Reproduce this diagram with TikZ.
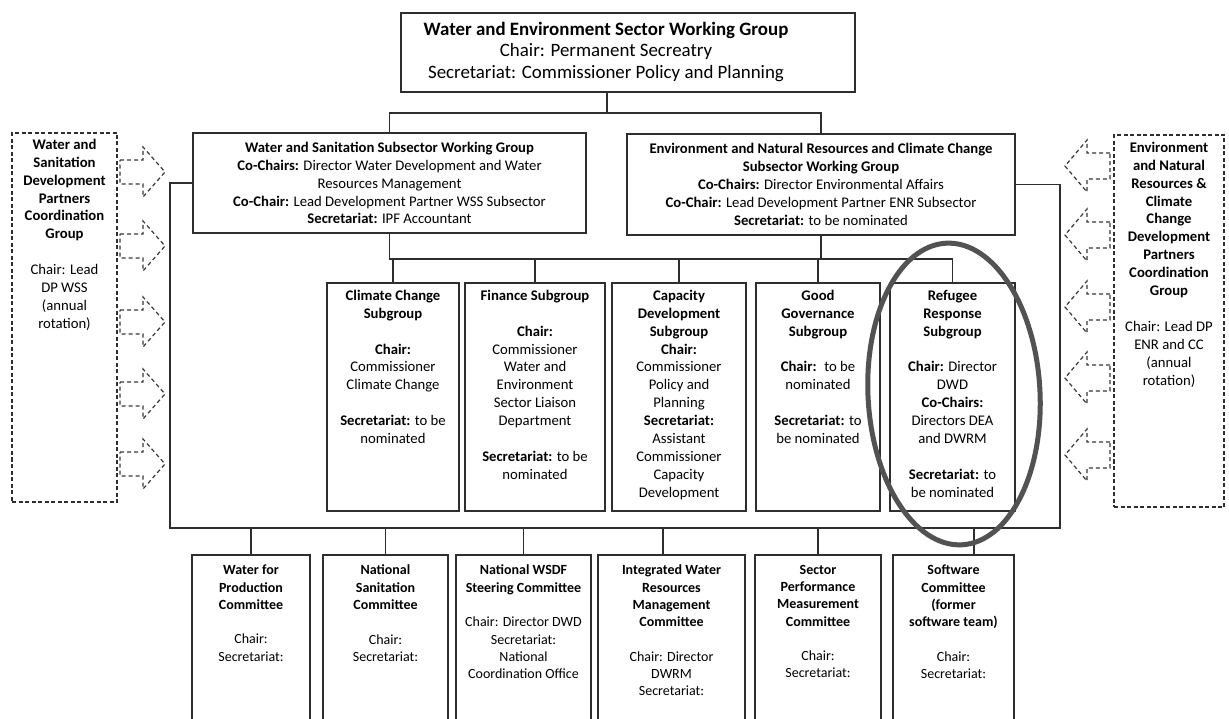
\documentclass[tikz,border=0pt]{standalone}
\usepackage{fontspec}
\setmainfont{Carlito}
% text block of a fixed size, set from its top edge
\newcommand\cellbox[4]{\parbox[c][#2][t]{#1}{\vspace*{#3}\centering #4\par}}
\newcommand\sizeA{\fontsize{18.9}{22.5}\selectfont}
\newcommand\sizeB{\fontsize{14.7}{17.9}\selectfont}
\newcommand\sizeC{\fontsize{14}{17.3}\selectfont}
\begin{document}
\begin{tikzpicture}[x=1pt,y=-1pt,
  line/.style={draw=black!82, line width=1.35pt},
  box/.style={draw=black!82, line width=1.35pt, inner sep=0pt, fill=white},
  dbox/.style={draw=black!82, line width=1.3pt, dash pattern=on 4pt off 2.5pt, inner sep=0pt},
  darrow/.style={draw=black!78, line width=1.2pt, dash pattern=on 4pt off 3pt, line join=miter},
  ring/.style={draw=black!68, line width=5pt}]
\useasboundingbox (0,0) rectangle (1229,719);
\begin{scope}
\clip (0,0) rectangle (1229,719);

% bus lines
\coordinate (busA) at (0,113);
\coordinate (busB) at (0,259);
\coordinate (busC) at (0,528);
\coordinate (lcorner) at (170,528);
\coordinate (rcorner) at (1060,528);

% sector working group
\node[box, minimum width=454, minimum height=79] (top) at (628,52.5)
  {\sizeA\begin{tabular}{@{}c@{}}\textbf{Water and Environment Sector Working Group}\\[-1pt]
   Chair: Permanent Secreatry\\[-1pt]
   Secretariat: Commissioner Policy and Planning\end{tabular}\hspace*{44pt}};

% subsector working groups
\node[box, minimum width=393, minimum height=100, align=center, font=\sizeB] (wss) at (389.5,183)
  {\textbf{Water and Sanitation Subsector Working Group}\\
   \textbf{Co-Chairs:} Director Water Development and Water\\
   Resources Management\\
   \textbf{Co-Chair:} Lead Development Partner WSS Subsector\\
   \textbf{Secretariat:} IPF Accountant};
\node[box, minimum width=388, minimum height=101, align=center, font=\sizeB] (enr) at (821,184.5)
  {\textbf{Environment and Natural Resources and Climate Change}\\
   \textbf{Subsector Working Group}\\
   \textbf{Co-Chairs:} Director Environmental Affairs\\
   \textbf{Co-Chair:} Lead Development Partner ENR Subsector\\
   \textbf{Secretariat:} to be nominated};

% development partner groups
\node[dbox] (wdp) at (64.5,317.5)
  {\cellbox{105pt}{369pt}{6pt}{\sizeB\textbf{Water and\\Sanitation\\Development\\Partners\\Coordination\\Group}\\[17.9pt]
   Chair: Lead\\DP WSS\\(annual\\rotation)}};
\node[dbox] (edp) at (1169,321)
  {\cellbox{110pt}{372pt}{7pt}{\sizeB\textbf{Environment\\and Natural\\Resources \&\\Climate\\Change\\Development\\Partners\\Coordination\\Group}\\[17.9pt]
   Chair: Lead DP\\ENR and CC\\(annual\\rotation)}};

% subgroups
\node[box] (cc) at (393,397)
  {\cellbox{132pt}{228pt}{7pt}{\sizeB\textbf{Climate Change\\Subgroup}\\[17.9pt]
   \textbf{Chair:}\\Commissioner\\Climate Change\\[17.9pt]
   \textbf{Secretariat:} to be\\nominated}};
\node[box] (fin) at (535,397)
  {\cellbox{140pt}{228pt}{7pt}{\sizeB\textbf{Finance Subgroup}\\[17.9pt]
   \textbf{Chair:}\\Commissioner\\Water and\\Environment\\Sector Liaison\\Department\\[17.9pt]
   \textbf{Secretariat:} to be\\nominated}};
\node[box] (cap) at (679,397)
  {\cellbox{134pt}{228pt}{7pt}{\sizeB\textbf{Capacity\\Development\\Subgroup}\\
   \textbf{Chair:}\\Commissioner\\Policy and\\Planning\\
   \textbf{Secretariat:}\\Assistant\\Commissioner\\Capacity\\Development}};
\node[box] (gg) at (818,397)
  {\cellbox{124pt}{228pt}{7pt}{\sizeB\textbf{Good\\Governance\\Subgroup}\\[17.9pt]
   \textbf{Chair:} \ to be\\nominated\\[17.9pt]
   \textbf{Secretariat:} to\\be nominated}};
\node[box] (ref) at (952.5,397)
  {\cellbox{125pt}{228pt}{7pt}{\sizeB\textbf{Refugee\\Response\\Subgroup}\\[17.9pt]
   \textbf{Chair:} Director\\DWD\\\textbf{Co-Chairs:}\\Directors DEA\\and DWRM\\[17.9pt]
   \textbf{Secretariat:} to\\be nominated}};

% committees
\node[box] (wfp) at (251,642.5)
  {\cellbox{118pt}{175pt}{10pt}{\sizeC\textbf{Water for\\Production\\Committee}\\[17.3pt]
   Chair:\\Secretariat:}};
\node[box] (ns) at (385.5,642.5)
  {\cellbox{125pt}{175pt}{10pt}{\sizeC\textbf{National\\Sanitation\\Committee}\\[17.3pt]
   Chair:\\Secretariat:}};
\node[box] (wsdf) at (523.5,642.5)
  {\cellbox{135pt}{175pt}{10pt}{\sizeC\textbf{National WSDF\\Steering Committee}\\[17.3pt]
   Chair: Director DWD\\Secretariat:\\National\\Coordination Office}};
\node[box] (iwrm) at (671.5,642.5)
  {\cellbox{147pt}{175pt}{10pt}{\sizeC\textbf{Integrated Water\\Resources\\Management\\Committee}\\[17.3pt]
   Chair: Director\\DWRM\\Secretariat:}};
\node[box] (spm) at (818,642.5)
  {\cellbox{126pt}{175pt}{10pt}{\sizeC\textbf{Sector\\Performance\\Measurement\\Committee}\\[17.3pt]
   Chair:\\Secretariat:}};
\node[box] (sw) at (953.5,642.5)
  {\cellbox{121pt}{175pt}{10pt}{\sizeC\textbf{Software\\Committee\\(former\\software team)}\\[17.3pt]
   Chair:\\Secretariat:}};

% top level connectors
\draw[line] ([xshift=-21pt]top.south) -- ([xshift=-21pt]top.south |- busA);
\draw[line] (wss.north) -- (wss.north |- busA) -| (enr.north);

% subgroup connectors
\draw[line] (wss.south) -- (wss.south |- busB) -- (ref.north |- busB);
\draw[line] (enr.south) -- (enr.south |- busB);
\foreach \n in {cc,fin,cap,gg,ref}
  \draw[line] (\n.north) -- (\n.north |- busB);

% committee connectors
\draw[line] (wss.west) -| (lcorner) -- (rcorner) |- (enr.east);
\foreach \n in {wfp,ns,wsdf,spm}
  \draw[line] (\n.north) -- (\n.north |- busC);
\draw[line] ([xshift=-8.5pt]iwrm.north) -- ([xshift=-8.5pt]iwrm.north |- busC);
\draw[line] ([xshift=20.5pt]sw.north) -- ([xshift=20.5pt]sw.north |- busC);

% dashed block arrows from the partner groups
\foreach \y in {172,246,322,394,464}
  \draw[darrow] (120,\y-12) -- (143,\y-12) -- (143,\y-25) -- (165,\y)
    -- (143,\y+25) -- (143,\y+12) -- (120,\y+12) -- cycle;
\foreach \y in {166,235,307,378,455}
  \draw[darrow] (1110,\y-13) -- (1087,\y-13) -- (1087,\y-26) -- (1065,\y)
    -- (1087,\y+26) -- (1087,\y+13) -- (1110,\y+13) -- cycle;

% ring around the refugee response subgroup
\draw[ring, rotate around={3:(954,394)}] (954,394) ellipse [x radius=86, y radius=151];
\end{scope}
\end{tikzpicture}
\end{document}
